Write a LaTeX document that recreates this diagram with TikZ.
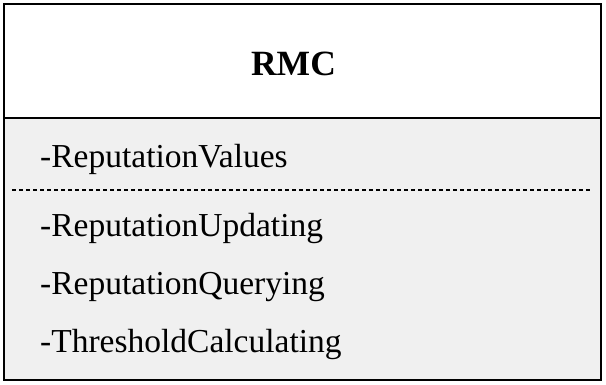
\documentclass[tikz,border=0pt]{standalone}
\usepackage{fontspec}
\setmainfont{Liberation Serif}
\definecolor{bodygray}{HTML}{F0F0F0}
\begin{document}
\begin{tikzpicture}[x=1pt,y=-1pt,
  boxline/.style={line width=2pt,draw=black},
  attr/.style={anchor=base west,inner sep=0pt,font=\fontsize{33.5}{36}\selectfont},
  title/.style={anchor=base,inner sep=0pt,font=\fontsize{35.5}{38}\selectfont\bfseries}]
\useasboundingbox (0,0) rectangle (606,384);
\fill[white] (4,4) rectangle (601,118);
\fill[bodygray] (4,118) rectangle (601,380);
\draw[boxline] (4,4) rectangle (601,380);
\draw[boxline] (4,118) -- (601,118);
\node[title] (rmc) at (293.5,75) {RMC};
\node[attr] (a1) at (40,167) {-ReputationValues};
\coordinate (dl) at (12,190);
\coordinate (dr) at (592,190);
\draw[line width=1.3pt,dash pattern=on 4pt off 3pt] (dl) -- (dr);
\node[attr] (m1) at (40,236) {-ReputationUpdating};
\node[attr] (m2) at (40,294) {-ReputationQuerying};
\node[attr] (m3) at (40,352) {-ThresholdCalculating};
\end{tikzpicture}
\end{document}
